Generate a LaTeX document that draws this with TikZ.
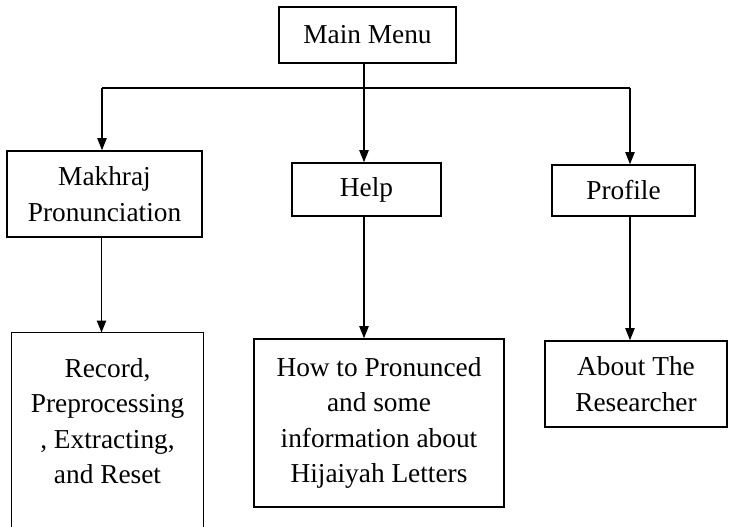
\documentclass[tikz,border=0pt]{standalone}
\usepackage{fontspec}
\setmainfont{Liberation Serif}
\usetikzlibrary{arrows.meta}

\tikzset{every picture/.style={line width=0.75pt}}
\tikzset{
	menubox/.style={draw, line width=1.2pt, align=center, inner sep=2pt, font=\fontsize{20.5}{26.5}\selectfont},
	menutext/.style={align=center, inner sep=2pt, font=\fontsize{20.5}{26.5}\selectfont},
	arr/.style={-{Triangle[length=9pt,width=7pt]}, line width=1pt}
}

\begin{document}
\begin{tikzpicture}[x=0.75pt,y=0.75pt,yscale=-1,xscale=1]
	%set diagram left start at 0, and has height of 526
	\useasboundingbox (0,0) rectangle (729,526);

	% Main Menu
	\node [menubox, minimum width=132.75pt, minimum height=42pt] (main) at (367.5,35) {Main Menu};
	% second row
	\node [menubox, minimum width=146.25pt, minimum height=64.5pt] (makhraj) at (104.5,194) {Makhraj\\Pronunciation};
	\node [menubox, minimum width=111.75pt, minimum height=39.75pt] (help) at (366.5,189.5) {Help};
	\node [menubox, minimum width=107.25pt, minimum height=38.25pt] (profile) at (623.5,190.5) {Profile};
	% third row
	\node [menutext, minimum width=143.25pt, minimum height=132pt] (record) at (107.5,421) {Record,\\Preprocessing\\, Extracting,\\and Reset};
	\node [menubox, minimum width=187.5pt, minimum height=126pt] (helpinfo) at (379,423) {How to Pronunced\\and some\\information about\\Hijaiyah Letters};
	\node [menubox, minimum width=136.5pt, minimum height=64.5pt] (researcher) at (636,384) {About The\\Researcher};

	%Shape: open box running off the page
	\draw [line width=1.2pt] (record.south west) ++(0,25) -- (record.north west) -- (record.north east) -- ++(0,200) ;

	% junction points
	\coordinate (jl) at (102,88);
	\coordinate (jm) at (364,88);
	\coordinate (jr) at (630,88);

	%Straight Lines
	\draw [line width=1pt] (jl) -- (jr) ;
	\draw [arr] (jm |- main.south) -- (jm |- help.north) ;
	\draw [arr] (jl) -- (jl |- makhraj.north) ;
	\draw [arr] (jr) -- (jr |- profile.north) ;
	\draw [arr] (makhraj.south -| record.north) ++(-6,0) -- ([xshift=-4.5pt]record.north) ;
	\draw [arr] (jm |- help.south) -- (jm |- helpinfo.north) ;
	\draw [arr] (jr |- profile.south) -- (jr |- researcher.north) ;

\end{tikzpicture}
\end{document}
